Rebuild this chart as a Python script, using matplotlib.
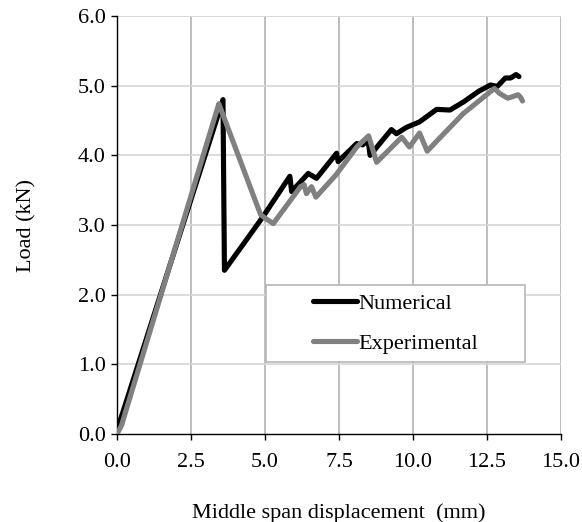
import matplotlib
matplotlib.use("Agg")
import matplotlib.pyplot as plt
from matplotlib.patches import Rectangle

# Numerical (black)
num_x = [0.0, 3.58, 3.63, 4.36, 4.95, 5.84, 5.90, 6.46, 6.74, 7.42, 7.47, 8.10, 8.30,
         8.48, 8.55, 9.27, 9.44, 9.77, 10.22, 10.80, 11.25, 11.72, 12.22, 12.62, 12.85,
         13.12, 13.30, 13.48, 13.58]
num_y = [0.05, 4.80, 2.35, 2.78, 3.13, 3.70, 3.48, 3.74, 3.67, 4.03, 3.91, 4.17, 4.15,
         4.22, 4.00, 4.37, 4.31, 4.40, 4.48, 4.66, 4.65, 4.77, 4.92, 5.01, 4.99,
         5.11, 5.11, 5.16, 5.13]

# Experimental (grey)
exp_x = [0.0, 0.15, 3.44, 4.85, 5.00, 5.28, 6.20, 6.32, 6.40, 6.57, 6.72, 7.40, 8.10,
         8.50, 8.77, 9.62, 9.88, 10.22, 10.48, 10.86, 11.70, 12.75, 12.92, 13.20, 13.35,
         13.55, 13.64, 13.70]
exp_y = [0.0, 0.12, 4.74, 3.15, 3.10, 3.02, 3.55, 3.58, 3.45, 3.55, 3.40, 3.72, 4.12,
         4.28, 3.90, 4.26, 4.12, 4.32, 4.06, 4.23, 4.60, 4.96, 4.89, 4.82, 4.84,
         4.87, 4.83, 4.78]

x_ticks = [0.0, 2.5, 5.0, 7.5, 10.0, 12.5, 15.0]
y_ticks = [0.0, 1.0, 2.0, 3.0, 4.0, 5.0, 6.0]

plt.rcParams['font.family'] = ['Liberation Serif', 'DejaVu Serif']

fig = plt.figure(figsize=(5.82, 5.22), dpi=100)
ax = fig.add_axes([117/582, 1-434/522, (561-117)/582, (434-16)/522])

ax.set_xlim(0, 15)
ax.set_ylim(0, 6)
ax.set_xticks(x_ticks)
ax.set_yticks(y_ticks)
ax.set_xticklabels([f"{v:.1f}" for v in x_ticks])
ax.set_yticklabels([f"{v:.1f}" for v in y_ticks])

for v in x_ticks[1:]:
    ax.axvline(v, color='#b3b3b3', lw=1.2, zorder=0)
for v in y_ticks[1:]:
    ax.axhline(v, color='#d6d6d6', lw=1.2, zorder=0)

ax.plot(num_x, num_y, color='black', lw=3.7, label='Numerical', zorder=2,
        solid_capstyle='round', solid_joinstyle='round')
ax.plot(exp_x, exp_y, color='#808080', lw=3.7, label='Experimental', zorder=3,
        solid_capstyle='round', solid_joinstyle='round')

for s in ['top', 'right']:
    ax.spines[s].set_visible(False)
for s in ['left', 'bottom']:
    ax.spines[s].set_color('black')
    ax.spines[s].set_linewidth(1.0)

ax.tick_params(axis='both', direction='out', length=4, width=1, colors='black',
               labelsize=16)
ax.tick_params(axis='x', pad=10)
ax.tick_params(axis='y', pad=4)

ax.set_xlabel('Middle span displacement  (mm)', fontsize=16, labelpad=22)
ax.set_ylabel('Load (kN)', fontsize=16, labelpad=30)

# legend frame
x0 = (266-117)/444
y0 = (434-362)/418
w = (525-266)/444
h = (362-285)/418
ax.add_patch(Rectangle((x0, y0), w, h, transform=ax.transAxes, facecolor='white',
                       edgecolor='#b8b8b8', lw=1.2, zorder=4))
leg = ax.legend(loc='center', bbox_to_anchor=(x0 + w/2, y0 + h/2),
                bbox_transform=ax.transAxes, frameon=False, fontsize=16,
                handlelength=2.0, handletextpad=0.05, labelspacing=0.85)
leg.set_zorder(5)

fig.savefig('out.png', dpi=100)
